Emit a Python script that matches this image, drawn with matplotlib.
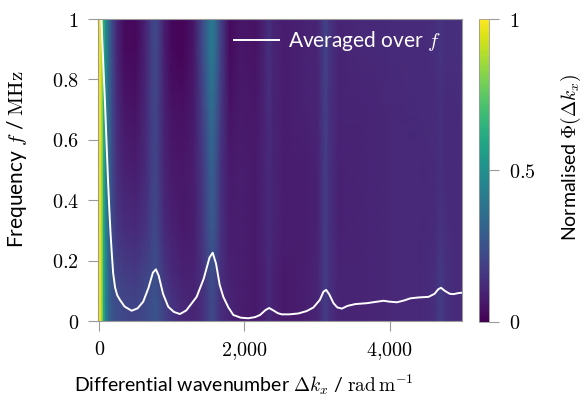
import numpy as np
import matplotlib
matplotlib.use("Agg")
import matplotlib.pyplot as plt
from matplotlib.lines import Line2D
from matplotlib.ticker import FuncFormatter

plt.rcParams["font.family"] = ["Lato", "DejaVu Sans"]
plt.rcParams["mathtext.fontset"] = "cm"
plt.rcParams["font.size"] = 14

# wavenumber grid (rad/m) and frequency grid (MHz) of the spectrum map
kx = [-12, 15, 35, 60, 90, 130, 180, 250, 350, 500, 640, 720, 770, 820, 900,
      1000, 1150, 1300, 1420, 1500, 1550, 1600, 1680, 1800, 1950, 2150, 2280,
      2340, 2400, 2550, 2800, 3000, 3080, 3120, 3170, 3300, 3600, 4000, 4400,
      4620, 4700, 4780, 4900, 5000]
freq = [0.0, 0.06, 0.15, 0.3, 0.5, 0.7, 0.9, 1.0]

# normalised spectrum, one profile per wavenumber (low -> high frequency)
phi_columns = [
    [1.00, 1.00, 1.00, 1.00, 1.00, 1.00, 1.00, 1.00],
    [0.98, 0.98, 0.98, 0.98, 0.98, 0.98, 0.98, 0.98],
    [0.88, 0.88, 0.88, 0.88, 0.88, 0.90, 0.90, 0.90],
    [0.62, 0.62, 0.63, 0.63, 0.64, 0.65, 0.65, 0.65],
    [0.45, 0.45, 0.46, 0.46, 0.46, 0.47, 0.48, 0.48],
    [0.33, 0.33, 0.33, 0.33, 0.34, 0.34, 0.35, 0.35],
    [0.26, 0.26, 0.24, 0.22, 0.22, 0.22, 0.22, 0.22],
    [0.23, 0.23, 0.20, 0.16, 0.13, 0.12, 0.10, 0.10],
    [0.21, 0.21, 0.18, 0.13, 0.09, 0.06, 0.03, 0.03],
    [0.20, 0.20, 0.17, 0.12, 0.08, 0.05, 0.02, 0.02],
    [0.22, 0.22, 0.20, 0.15, 0.12, 0.11, 0.10, 0.10],
    [0.24, 0.24, 0.22, 0.19, 0.18, 0.18, 0.18, 0.18],
    [0.26, 0.26, 0.24, 0.22, 0.21, 0.21, 0.22, 0.22],
    [0.24, 0.24, 0.21, 0.18, 0.17, 0.17, 0.18, 0.18],
    [0.19, 0.19, 0.16, 0.12, 0.10, 0.09, 0.08, 0.08],
    [0.15, 0.15, 0.12, 0.09, 0.07, 0.05, 0.02, 0.02],
    [0.11, 0.11, 0.09, 0.07, 0.06, 0.04, 0.01, 0.01],
    [0.10, 0.10, 0.09, 0.08, 0.08, 0.07, 0.06, 0.06],
    [0.13, 0.13, 0.14, 0.15, 0.16, 0.18, 0.22, 0.22],
    [0.18, 0.18, 0.20, 0.23, 0.25, 0.29, 0.34, 0.34],
    [0.22, 0.22, 0.24, 0.27, 0.30, 0.35, 0.40, 0.40],
    [0.19, 0.19, 0.21, 0.24, 0.26, 0.30, 0.35, 0.35],
    [0.13, 0.13, 0.13, 0.14, 0.14, 0.16, 0.18, 0.18],
    [0.10, 0.10, 0.09, 0.08, 0.07, 0.05, 0.03, 0.03],
    [0.08, 0.08, 0.08, 0.08, 0.08, 0.07, 0.06, 0.06],
    [0.07, 0.07, 0.07, 0.07, 0.07, 0.06, 0.05, 0.05],
    [0.09, 0.09, 0.09, 0.10, 0.10, 0.10, 0.10, 0.10],
    [0.12, 0.12, 0.12, 0.12, 0.12, 0.13, 0.14, 0.14],
    [0.09, 0.09, 0.09, 0.10, 0.10, 0.10, 0.10, 0.10],
    [0.07, 0.07, 0.07, 0.08, 0.08, 0.08, 0.08, 0.08],
    [0.08, 0.08, 0.08, 0.08, 0.08, 0.09, 0.09, 0.09],
    [0.10, 0.10, 0.10, 0.09, 0.09, 0.10, 0.10, 0.10],
    [0.15, 0.15, 0.15, 0.15, 0.15, 0.15, 0.16, 0.16],
    [0.18, 0.18, 0.18, 0.18, 0.18, 0.19, 0.20, 0.20],
    [0.14, 0.14, 0.14, 0.14, 0.14, 0.14, 0.15, 0.15],
    [0.10, 0.10, 0.10, 0.09, 0.09, 0.10, 0.10, 0.10],
    [0.10, 0.10, 0.10, 0.10, 0.10, 0.10, 0.11, 0.11],
    [0.11, 0.11, 0.11, 0.11, 0.11, 0.11, 0.12, 0.12],
    [0.11, 0.11, 0.11, 0.11, 0.11, 0.12, 0.12, 0.12],
    [0.13, 0.13, 0.13, 0.12, 0.12, 0.12, 0.13, 0.13],
    [0.18, 0.18, 0.17, 0.15, 0.14, 0.14, 0.15, 0.15],
    [0.14, 0.14, 0.14, 0.13, 0.12, 0.12, 0.13, 0.13],
    [0.12, 0.12, 0.12, 0.12, 0.12, 0.12, 0.13, 0.13],
    [0.12, 0.12, 0.12, 0.12, 0.12, 0.13, 0.14, 0.14],
]

# frequency-averaged spectrum
avg_kx = [30, 55, 79, 100, 124, 140, 157, 175, 193, 220, 250, 286, 350, 447,
          530, 607, 680, 740, 782, 820, 880, 952, 1030, 1113, 1200, 1343,
          1440, 1520, 1564, 1610, 1660, 1710, 1780, 1848, 1950, 2055, 2150,
          2217, 2290, 2341, 2400, 2460, 2516, 2620, 2745, 2860, 2952, 3040,
          3090, 3127, 3170, 3228, 3280, 3343, 3420, 3527, 3688, 3800, 3917,
          4000, 4101, 4200, 4286, 4400, 4538, 4620, 4670, 4709, 4760, 4830,
          4883, 4940, 5000]
avg_phi = [1.0, 0.86, 0.73, 0.60, 0.456, 0.37, 0.29, 0.22, 0.158, 0.11,
           0.085, 0.07, 0.048, 0.034, 0.042, 0.064, 0.11, 0.16, 0.171, 0.15,
           0.09, 0.047, 0.03, 0.023, 0.035, 0.08, 0.14, 0.21, 0.226, 0.19,
           0.12, 0.08, 0.045, 0.02, 0.011, 0.009, 0.013, 0.02, 0.036, 0.043,
           0.035, 0.026, 0.022, 0.022, 0.025, 0.033, 0.045, 0.07, 0.097,
           0.103, 0.088, 0.059, 0.045, 0.041, 0.05, 0.056, 0.059, 0.063,
           0.067, 0.064, 0.062, 0.068, 0.075, 0.078, 0.08, 0.09, 0.105, 0.11,
           0.1, 0.09, 0.089, 0.092, 0.094]

x_ticks = [0, 2000, 4000]
y_ticks = [0, 0.2, 0.4, 0.6, 0.8, 1.0]
cbar_ticks = [0, 0.5, 1]

grey = "#9a9a9a"
tick_size = 14.5

fig = plt.figure(figsize=(5.85, 4.01), dpi=100)
ax = fig.add_axes([0.168, 0.1995, 0.622, 0.7531])
cax = fig.add_axes([0.8193, 0.1978, 0.0171, 0.7548])

K, F = np.meshgrid(kx, freq)
phi = np.array(phi_columns).T
mesh = ax.pcolormesh(K, F, phi, shading="gouraud", cmap="viridis",
                     vmin=0, vmax=1, rasterized=True)
ax.plot(avg_kx, avg_phi, color="white", lw=1.4, clip_on=True)

ax.set_xlim(-12, 5000)
ax.set_ylim(0, 1)
ax.set_xticks(x_ticks)
ax.set_yticks(y_ticks)
ax.xaxis.set_major_formatter(FuncFormatter(
    lambda v, p: "$" + f"{int(v):,}".replace(",", "{,}") + "$"))
ax.yaxis.set_major_formatter(FuncFormatter(
    lambda v, p: "$0$" if v == 0 else ("$1$" if v == 1 else f"${v:.1f}$")))
ax.tick_params(direction="out", length=7, width=0.8, color=grey, pad=7,
               labelsize=tick_size)
for s in ax.spines.values():
    s.set_color(grey)
    s.set_linewidth(0.8)

ax.set_xlabel(r"Differential wavenumber $\Delta k_x$ / $\mathrm{rad}\,\mathrm{m}^{-1}$",
              fontsize=14)
ax.xaxis.set_label_coords(0.4, -0.17)
ax.set_ylabel(r"Frequency $f$ / $\mathrm{MHz}$", fontsize=15)
ax.yaxis.set_label_coords(-0.19, 0.535)

handle = Line2D([], [], color="white", lw=1.4)
ax.legend([handle], [r"Averaged over $f$"], loc="upper left",
          bbox_to_anchor=(0.372, 0.967), frameon=False, labelcolor="white",
          handlelength=2.2, handletextpad=0.4, borderaxespad=0, borderpad=0,
          fontsize=15)

cb = fig.colorbar(mesh, cax=cax, ticks=cbar_ticks)
cb.outline.set_edgecolor(grey)
cb.outline.set_linewidth(0.6)
cb.ax.set_yticklabels(["$0$", "$0.5$", "$1$"])
cb.ax.tick_params(direction="out", length=7, width=0.8, color=grey, pad=7,
                  labelsize=tick_size)
cb.set_label(r"Normalised $\Phi(\Delta k_x)$", fontsize=14, labelpad=17)
cb.ax.yaxis.label.set_y(0.543)

fig.savefig("out.png", dpi=100)
